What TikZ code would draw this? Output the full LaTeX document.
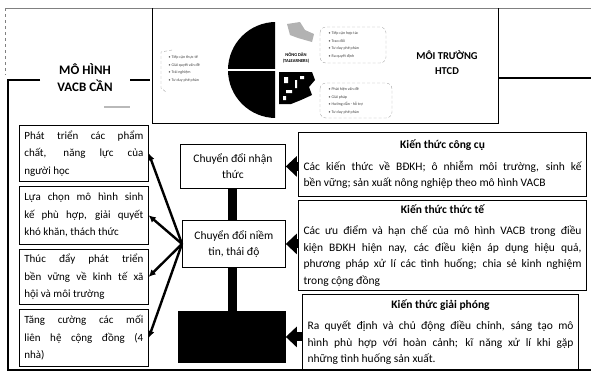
\documentclass[tikz,border=0pt]{standalone}
\usepackage{fontspec}
\setmainfont{Carlito}
\usetikzlibrary{arrows.meta}
\begin{document}
\begin{tikzpicture}[x=1pt,y=-1pt,line width=.8pt,
  lbox/.style={draw,line width=.7pt,anchor=north west,text width=119pt,inner xsep=5pt,align=justify,font=\fontsize{11}{17.5}\selectfont},
  mbox/.style={draw,line width=.8pt,anchor=north west,align=center,font=\fontsize{11.5}{16}\selectfont},
  rbox/.style={draw,line width=1.1pt,anchor=north west,inner xsep=5pt,inner ysep=3pt,align=justify,font=\fontsize{11.5}{16.5}\selectfont},
  mini/.style={font=\fontsize{4}{7.5}\selectfont,align=left,text=black!75,anchor=west},
  blk/.style={line width=9pt,-{Triangle[length=11pt,width=20pt]}},
  lnk/.style={line width=2.4pt,-{Latex[length=7pt,width=7pt]}}]
\useasboundingbox (0,0) rectangle (591,378);
% frame
\draw[gray,line width=.6pt] (5,8) -- (591,8);
\draw[gray,dashed,line width=.5pt] (5,8) -- (5,75);
\draw[line width=.9pt] (152,8) -- (152,123) -- (498,123) -- (498,8);
\draw[line width=2.5pt] (498,78) -- (591,78);
\draw[line width=2.5pt] (40,80) -- (8,80) -- (8,370) -- (591,370);
\draw[line width=2.5pt] (130,80) -- (150,80);
\node[font=\bfseries\fontsize{13}{17}\selectfont,align=center] (vacb) at (85,78) {MÔ HÌNH\\VACB CẦN};
\fill[gray!55] (104,106) rectangle (130,108);
\node[font=\bfseries\fontsize{10.5}{15}\selectfont,align=center] (mt) at (447,63) {MÔI TRƯỜNG\\HTCD};
% pie
\begin{scope}
\clip (228,22) rectangle (275,118);
\fill (276,70) circle[radius=48];
\end{scope}
\draw[white,line width=1.5pt] (228,70) -- (276,70);
\begin{scope}
\clip (278,72) rectangle (330,120);
\clip (276,70) circle[radius=48];
\fill (279,72) -- (312,72) -- (315,80) -- (309,87) -- (312,95) -- (301,100) -- (291,104) -- (279,104) -- cycle;
\end{scope}
\fill[white] (284,77) rectangle (288,83) (295,80) rectangle (297,88) (286,90) rectangle (292,93) (300,76) rectangle (304,79) (283,96) rectangle (286,100);
\fill[gray!60] (287,24) -- (300,22) -- (305,30) -- (314,34) -- (312,42) -- (298,38) -- (290,35) -- cycle;
\node[font=\bfseries\fontsize{4.5}{6}\selectfont,align=center] (nd) at (296,58) {NÔNG DÂN\\(TALEARNERS)};
\node[mini] (la) at (165,69) {• Tiếp cận thực tế\\• Giải quyết vấn đề\\• Trải nghiệm\\• Tư duy phê phán};
\node[mini] (ra) at (325,45) {• Tiếp cận hợp tác\\• Trao đổi\\• Tư duy phê phán\\• Ra quyết định};
\node[mini] (rb) at (325,101) {• Phát hiện vấn đề\\• Giải pháp\\• Hướng dẫn - hỗ trợ\\• Tư duy phê phán};
\draw[gray!70,densely dashed,line width=.4pt] (172,50) -- (161,52) -- (161,88) -- (166,92);
\draw[gray!70,densely dashed,line width=.4pt,rounded corners=6pt] (320,27) rectangle (386,63);
\draw[gray!70,densely dashed,line width=.4pt,rounded corners=6pt] (320,83) rectangle (392,118);
% left
\node[lbox,minimum height=56pt] (p1) at (19,125) {Phát triển các phẩm\linebreak chất, năng lực của\linebreak người học};
\node[lbox,minimum height=58pt] (p2) at (19,186) {Lựa chọn mô hình sinh\linebreak kế phù hợp, giải quyết\linebreak khó khăn, thách thức};
\node[lbox,minimum height=55pt] (p3) at (19,249) {Thúc đẩy phát triển\linebreak bền vững về kinh tế xã\linebreak hội và môi trường};
\node[lbox,minimum height=57pt] (p4) at (19,309) {Tăng cường các mối\linebreak liên hệ cộng đồng (4\linebreak nhà)};
% middle
\node[mbox,minimum width=105pt,minimum height=44pt] (nt) at (180,144) {Chuyển đổi nhận\\thức};
\node[mbox,minimum width=103pt,minimum height=47pt] (ntd) at (182,220) {Chuyển đổi niềm\\tin, thái độ};
\node[mbox,fill=black,minimum width=107pt,minimum height=51pt] (hv) at (178,311) {};
% right
\node[rbox,text width=278pt,minimum height=64pt] (kcc) at (298,132) {{\centering\bfseries Kiến thức công cụ\par}\vspace{5pt}Các kiến thức về BĐKH; ô nhiễm môi trường, sinh kế\linebreak bền vững; sản xuất nông nghiệp theo mô hình VACB};
\node[rbox,text width=278pt,minimum height=90pt] (ktt) at (298,200) {{\centering\bfseries Kiến thức thức tế\par}\vspace{5pt}Các ưu điểm và hạn chế của mô hình VACB trong điều\linebreak kiện BĐKH hiện nay, các điều kiện áp dụng hiệu quả,\linebreak phương pháp xử lí các tình huống; chia sẻ kinh nghiệm\linebreak trong cộng đồng};
\node[rbox,text width=266pt,minimum height=75pt] (kgp) at (302,294) {{\centering\bfseries Kiến thức giải phóng\par}\vspace{5pt}Ra quyết định và chủ động điều chỉnh, sáng tạo mô\linebreak hình phù hợp với hoàn cảnh; kĩ năng xử lí khi gặp\linebreak những tình huống sản xuất.};
% links
\draw[line width=9pt] (nt.south) -- (nt.south |- ntd.north) (nt.south |- ntd.south) -- (nt.south |- hv.north);
\draw[blk] (kcc.west |- nt.east) -- (nt.east);
\draw[blk] (ktt.west |- ntd.east) -- (ntd.east);
\draw[blk] (kgp.west |- hv.east) -- (hv.east);
\foreach \p in {p1,p2,p3,p4} \draw[lnk] (ntd.west) -- (\p.east);
\end{tikzpicture}
\end{document}
